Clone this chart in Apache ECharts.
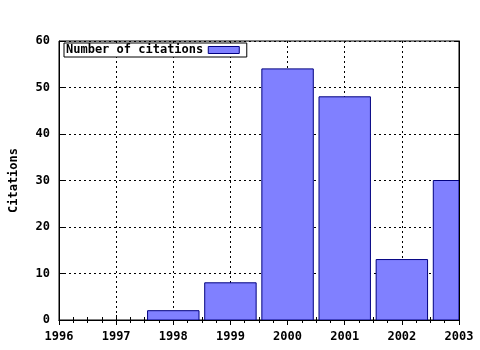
<!DOCTYPE html>
<html><head><meta charset="utf-8">
<script src="https://cdn.jsdelivr.net/npm/echarts@6/dist/echarts.min.js"></script>
<style>html,body{margin:0;padding:0;background:#fff}#c{width:480px;height:350px}</style>
</head><body><div id="c"></div>
<script>
var years = [1998, 1999, 2000, 2001, 2002, 2003];
var citations = [2, 8, 54, 48, 13, 30];
var seriesName = 'Number of citations';
var yAxisTitle = 'Citations';
var xMin = 1996, xMax = 2003, yMin = 0, yMax = 60, yStep = 10;
var barFrac = 0.9;

var FONT = 'DejaVu Sans Mono';
var chart = echarts.init(document.getElementById('c'), null, {renderer: 'canvas'});
var data = years.map(function (y, i) { return [y, citations[i]]; });

chart.setOption({
  animation: false,
  backgroundColor: '#fff',
  grid: {left: 57, right: 21, top: 41, bottom: 30, show: true, borderColor: '#000', borderWidth: 1, backgroundColor: 'transparent'},
  legend: {
    show: true, left: 64, top: 43, orient: 'horizontal',
    align: 'right', padding: [1, 7, 1, 2], itemGap: 0,
    itemWidth: 31, itemHeight: 7, borderColor: '#000', borderWidth: 1,
    backgroundColor: '#fff',
    textStyle: {fontFamily: FONT, fontSize: 12, fontWeight: 'bold', color: '#000'},
    data: [{name: seriesName, icon: 'rect', itemStyle: {color: '#8080ff', borderColor: '#000080', borderWidth: 1}}]
  },
  xAxis: [{
    type: 'value', min: xMin, max: xMax, interval: 1, position: 'bottom',
    axisLine: {show: true, lineStyle: {color: '#000', width: 1}},
    axisTick: {show: true, inside: true, length: 5, lineStyle: {color: '#000'}},
    minorTick: {show: true, splitNumber: 4, length: 3, lineStyle: {color: '#000'}},
    axisLabel: {show: true, fontFamily: FONT, fontWeight: 'bold', fontSize: 12, color: '#000', margin: 11, formatter: function (v) { return String(v); }},
    splitLine: {show: true, lineStyle: {color: '#000', type: [2, 3], width: 1}}
  }, {
    type: 'value', min: xMin, max: xMax, interval: 1, position: 'top',
    axisLine: {show: true, lineStyle: {color: '#000', width: 1}},
    axisTick: {show: true, inside: true, length: 5, lineStyle: {color: '#000'}},
    minorTick: {show: true, splitNumber: 4, length: 3, lineStyle: {color: '#000'}},
    axisLabel: {show: false}, splitLine: {show: false}
  }],
  yAxis: [{
    type: 'value', min: yMin, max: yMax, interval: yStep, position: 'left',
    name: yAxisTitle, nameLocation: 'middle', nameGap: 39, nameRotate: 90,
    nameTextStyle: {fontFamily: FONT, fontWeight: 'bold', fontSize: 12, color: '#000'},
    axisLine: {show: true, lineStyle: {color: '#000', width: 1}},
    axisTick: {show: true, inside: true, length: 5, lineStyle: {color: '#000'}},
    axisLabel: {show: true, fontFamily: FONT, fontWeight: 'bold', fontSize: 12, color: '#000', margin: 9},
    splitLine: {show: true, lineStyle: {color: '#000', type: [2, 3], width: 1}}
  }, {
    type: 'value', min: yMin, max: yMax, interval: yStep, position: 'right',
    axisLine: {show: true, lineStyle: {color: '#000', width: 1}},
    axisTick: {show: true, inside: true, length: 5, lineStyle: {color: '#000'}},
    axisLabel: {show: false}, splitLine: {show: false}
  }],
  series: [{
    type: 'custom', name: seriesName, xAxisIndex: 0, yAxisIndex: 0, clip: true, z: 1,
    itemStyle: {color: '#8080ff', borderColor: '#000080', borderWidth: 1},
    renderItem: function (params, api) {
      var x = api.value(0), y = api.value(1);
      var p0 = api.coord([x - barFrac / 2, y]);
      var p1 = api.coord([x + barFrac / 2, 0]);
      var rect = {x: p0[0], y: p0[1], width: p1[0] - p0[0], height: p1[1] - p0[1]};
      var cs = params.coordSys;
      var clipped = echarts.graphic.clipRectByRect(rect, {x: cs.x, y: cs.y, width: cs.width, height: cs.height});
      if (!clipped) return null;
      return {type: 'rect', shape: clipped, style: {fill: '#8080ff', stroke: '#000080', lineWidth: 1}};
    },
    data: data
  }]
});
</script></body></html>
